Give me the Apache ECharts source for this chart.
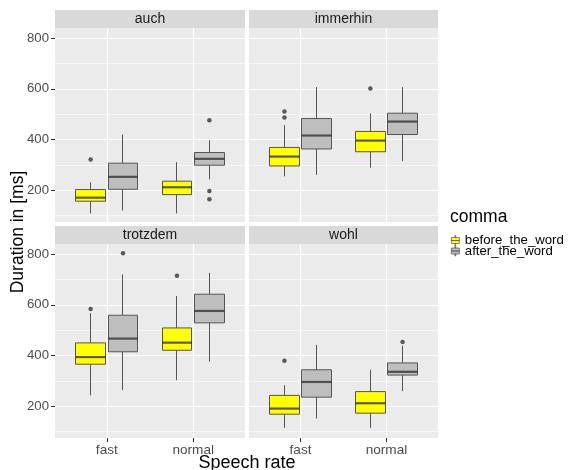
<!DOCTYPE html>
<html>
<head>
<meta charset="utf-8">
<script src="https://cdn.jsdelivr.net/npm/echarts@6/dist/echarts.min.js"></script>
<style>
html,body{margin:0;padding:0;background:#fff;}
#chart{width:577px;height:470px;}
</style>
</head>
<body>
<div id="chart"></div>
<script>
// ---- data ----
const words = ['auch', 'immerhin', 'trotzdem', 'wohl'];
const rates = ['fast', 'normal'];
const groups = ['before_the_word', 'after_the_word'];
const yTicks = [200, 400, 600, 800];
const yMinorTicks = [100, 300, 500, 700];

// box statistics per rate: [lower whisker, Q1, median, Q3, upper whisker]
const auchBefore = [[109, 157, 171, 203, 231], [109, 183, 212, 236, 311]];
const auchAfter = [[120, 204, 253, 307, 420], [243, 299, 324, 349, 397]];
const immerhinBefore = [[255, 296, 333, 369, 457], [289, 352, 396, 432, 503]];
const immerhinAfter = [[261, 363, 416, 483, 607], [315, 420, 471, 504, 607]];
const trotzdemBefore = [[243, 366, 394, 450, 567], [303, 421, 451, 509, 635]];
const trotzdemAfter = [[264, 415, 467, 559, 720], [376, 529, 576, 642, 726]];
const wohlBefore = [[115, 169, 191, 243, 283], [115, 173, 212, 258, 344]];
const wohlAfter = [[152, 236, 296, 344, 442], [260, 323, 336, 371, 439]];

// outliers: [rate index, value]
const auchBeforeOut = [[0, 321]];
const auchAfterOut = [[1, 476], [1, 197], [1, 165]];
const immerhinBeforeOut = [[0, 511], [0, 487], [1, 601]];
const immerhinAfterOut = [];
const trotzdemBeforeOut = [[0, 584], [1, 715]];
const trotzdemAfterOut = [[0, 804]];
const wohlBeforeOut = [[0, 380]];
const wohlAfterOut = [[1, 454]];

const stats = [[auchBefore, auchAfter], [immerhinBefore, immerhinAfter], [trotzdemBefore, trotzdemAfter], [wohlBefore, wohlAfter]];
const outliers = [[auchBeforeOut, auchAfterOut], [immerhinBeforeOut, immerhinAfterOut], [trotzdemBeforeOut, trotzdemAfterOut], [wohlBeforeOut, wohlAfterOut]];

// ---- layout / style ----
const fills = ['#FFFF00', '#BEBEBE'];
const DODGE = 0.375;
const BOX_W = 30;
const yMin = 75, yMax = 840;
const panels = [
  {left: 55, top: 28, width: 190, height: 194},
  {left: 249, top: 28, width: 189, height: 194},
  {left: 55, top: 244, width: 190, height: 194},
  {left: 249, top: 244, width: 189, height: 194}
];
const stripH = 18;
const FONT = 'Liberation Sans, Arial, sans-serif';

const grids = [], xAxes = [], yAxes = [], series = [], graphics = [];

panels.forEach((p, pi) => {
  const isBottom = pi >= 2;
  grids.push({left: p.left, top: p.top, width: p.width, height: p.height,
    show: true, backgroundColor: '#EBEBEB', borderWidth: 0, containLabel: false});
  graphics.push({type: 'rect', shape: {x: p.left, y: p.top - stripH, width: p.width, height: stripH},
    style: {fill: '#D9D9D9'}, z: 10});
  graphics.push({type: 'text', x: p.left + p.width / 2, y: p.top - stripH / 2 + 0.5,
    style: {text: words[pi], fill: '#1A1A1A', font: '14px ' + FONT, textAlign: 'center', textVerticalAlign: 'middle'}, z: 11});

  groups.forEach((g, gi) => {
    xAxes.push({
      gridIndex: pi, type: 'value', min: 0.4, max: 2.6, show: gi === 0,
      position: gi === 0 ? 'bottom' : 'top',
      axisLine: {show: false},
      axisTick: {show: isBottom && gi === 0, customValues: [1, 2], length: 4, lineStyle: {color: '#333333', width: 1}},
      axisLabel: {show: isBottom && gi === 0, customValues: [1, 2], margin: 5, fontSize: 13.6, color: '#4D4D4D', fontFamily: FONT,
        formatter: v => rates[Math.round(v) - 1]},
      splitLine: {show: gi === 0, lineStyle: {color: '#FFFFFF', width: 1.2}}
    });
  });
});

panels.forEach((p, pi) => {
  const isLeft = pi % 2 === 0;
  yAxes.push({
    gridIndex: pi, type: 'value', min: yMin, max: yMax, position: 'left',
    axisLine: {show: false},
    axisTick: {show: isLeft, customValues: yTicks, length: 4, lineStyle: {color: '#333333', width: 1}},
    axisLabel: {show: isLeft, customValues: yTicks, margin: 6, fontSize: 13.2, color: '#4D4D4D', fontFamily: FONT},
    splitLine: {show: true, lineStyle: {color: '#FFFFFF', width: 1.2}}
  });
});
panels.forEach((p, pi) => {
  yAxes.push({
    gridIndex: pi, type: 'value', min: yMin, max: yMax, position: 'right',
    axisLine: {show: false},
    axisTick: {show: false, customValues: yMinorTicks},
    axisLabel: {show: false, customValues: yMinorTicks},
    splitLine: {show: true, lineStyle: {color: '#FFFFFF', width: 0.6}}
  });
});

words.forEach((w, pi) => {
  groups.forEach((g, gi) => {
    const off = (gi - 0.5) * DODGE;
    const xi = pi * 2 + gi;
    const st = stats[pi][gi];
    // candlestick: [x, open(Q1), close(Q3), lowest(min), highest(max)] -> box + whiskers without caps
    series.push({
      type: 'candlestick', name: g, xAxisIndex: xi, yAxisIndex: pi,
      barWidth: BOX_W,
      data: st.map((s, ri) => [ri + 1 + off, s[1], s[3], s[0], s[4]]),
      itemStyle: {color: fills[gi], borderColor: '#555555', color0: fills[gi], borderColor0: '#555555', borderWidth: 1},
      emphasis: {disabled: true}, z: 3, silent: true
    });
    series.push({
      type: 'scatter', name: g, xAxisIndex: xi, yAxisIndex: pi,
      symbol: 'rect', symbolSize: [BOX_W, 2.2],
      data: st.map((s, ri) => [ri + 1 + off, s[2]]),
      itemStyle: {color: '#333333'}, emphasis: {disabled: true}, z: 4, silent: true
    });
    series.push({
      type: 'scatter', name: g, xAxisIndex: xi, yAxisIndex: pi,
      symbol: 'circle', symbolSize: 4.5,
      data: outliers[pi][gi].map(o => [o[0] + 1 + off, o[1]]),
      itemStyle: {color: '#333333'}, emphasis: {disabled: true}, z: 4, silent: true
    });
  });
});

// axis titles
graphics.push({type: 'text', x: 247, y: 463,
  style: {text: 'Speech rate', fill: '#000000', font: '18px ' + FONT, textAlign: 'center', textVerticalAlign: 'middle'}});
graphics.push({type: 'text', x: 18.5, y: 232, rotation: Math.PI / 2,
  style: {text: 'Duration in [ms]', fill: '#000000', font: '17.5px ' + FONT, textAlign: 'center', textVerticalAlign: 'middle'}});
graphics.push({type: 'text', x: 450, y: 217,
  style: {text: 'comma', fill: '#000000', font: '17.5px ' + FONT, textAlign: 'left', textVerticalAlign: 'middle'}});

const keyIcon = 'path://M3.6,0h0.8v2h-0.8z M0,2h8v3h-8z M0,5h8v3h-8z M3.6,8h0.8v2h-0.8z';

const option = {
  animation: false,
  backgroundColor: '#FFFFFF',
  grid: grids,
  xAxis: xAxes,
  yAxis: yAxes,
  series: series,
  legend: {
    orient: 'vertical', left: 451, top: 234, itemWidth: 9, itemHeight: 10, itemGap: -2.5,
    selectedMode: false, padding: 0,
    textStyle: {fontSize: 13.2, lineHeight: 10, color: '#000000', fontFamily: FONT},
    data: groups.map((g, gi) => ({name: g, icon: keyIcon,
      itemStyle: {color: fills[gi], borderColor: '#555555', borderWidth: 0.7}}))
  },
  graphic: graphics
};

const chart = echarts.init(document.getElementById('chart'), null, {renderer: 'canvas'});
chart.setOption(option);
</script>
</body>
</html>
